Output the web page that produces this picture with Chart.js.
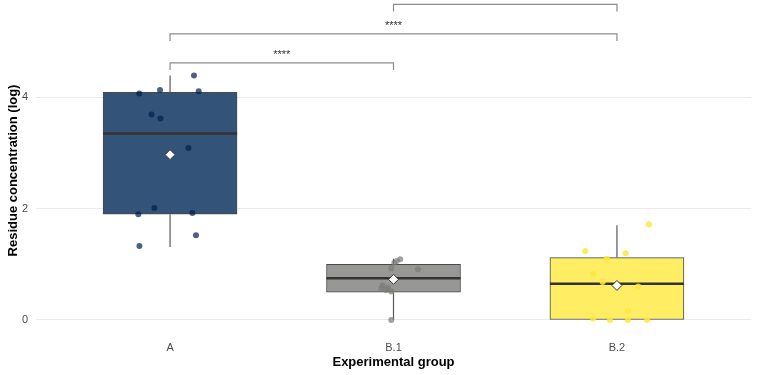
<!DOCTYPE html>
<html>
<head>
<meta charset="utf-8">
<script src="https://cdn.jsdelivr.net/npm/chart.js@4/dist/chart.umd.min.js"></script>
<style>
  html, body { margin: 0; padding: 0; background: #ffffff; }
  canvas { display: block; }
</style>
</head>
<body>
<canvas id="c" width="757" height="375"></canvas>
<script>
// ---- data ----
const categories = ['A', 'B.1', 'B.2'];
const boxQ1      = [1.90, 0.50, 0.00];
const boxMedian  = [3.35, 0.75, 0.65];
const boxQ3      = [4.09, 1.00, 1.12];
const whiskerLow = [1.31, 0.00, 0.00];
const whiskerHigh= [4.39, 1.10, 1.70];
const groupMean  = [2.97, 0.73, 0.62];

// jittered observations: x offset from group centre (category units), value
const jitterA_x  = [0.107, -0.138, -0.045, 0.128, -0.083, -0.043, 0.082, -0.070, -0.142, 0.100, 0.116, -0.137];
const jitterA_y  = [4.39, 4.07, 4.13, 4.11, 3.69, 3.62, 3.09, 2.01, 1.90, 1.92, 1.52, 1.33];
const jitterB1_x = [0.030, 0.015, 0.004, -0.010, 0.110, -0.048, -0.055, -0.033, -0.010, -0.025, -0.010, 0.000];
const jitterB1_y = [1.09, 1.06, 1.03, 0.93, 0.91, 0.62, 0.57, 0.54, 0.51, 0.58, 0.00, 0.74];
const jitterB2_x = [0.143, -0.142, 0.039, -0.046, -0.106, -0.064, 0.095, 0.049, -0.106, -0.031, 0.049, 0.135];
const jitterB2_y = [1.72, 1.24, 1.20, 1.10, 0.83, 0.68, 0.60, 0.16, 0.02, 0.00, 0.00, 0.00];

// significance brackets
const bracketFrom  = [0, 0, 1];
const bracketTo    = [1, 2, 2];
const bracketY     = [4.62, 5.14, 5.67];
const bracketTick  = [0.13, 0.13, 0.13];
const bracketLabel = ['****', '****', '****'];

const yTicks = [0, 2, 4];

// ---- styles ----
const boxFill   = ['rgb(52,83,120)', 'rgb(151,151,149)', 'rgb(255,237,100)'];
const pointCol  = ['rgba(0,32,77,0.7)', 'rgba(124,123,120,0.7)', 'rgba(255,230,60,0.85)'];

const jx = [jitterA_x, jitterB1_x, jitterB2_x];
const jy = [jitterA_y, jitterB1_y, jitterB2_y];

const whiskerData = [];
categories.forEach((c, i) => {
  whiskerData.push({x: i, y: whiskerLow[i]}, {x: i, y: boxQ1[i]}, {x: i, y: null});
  whiskerData.push({x: i, y: boxQ3[i]}, {x: i, y: whiskerHigh[i]}, {x: i, y: null});
});
const medianData = [];
categories.forEach((c, i) => {
  medianData.push({x: i - 0.3, y: boxMedian[i]}, {x: i + 0.3, y: boxMedian[i]}, {x: i + 0.5, y: null});
});
const bracketData = [];
bracketFrom.forEach((f, k) => {
  const t = bracketTo[k], y = bracketY[k], d = bracketTick[k];
  bracketData.push({x: f, y: y - d}, {x: f, y: y}, {x: t, y: y}, {x: t, y: y - d}, {x: t, y: null});
});

const datasets = [];
datasets.push({
  type: 'scatter', order: 0,
  data: categories.map((c, i) => ({x: i, y: groupMean[i]})),
  pointStyle: 'rectRot', pointRadius: 5, pointBackgroundColor: '#ffffff',
  pointBorderColor: '#333333', pointBorderWidth: 1
});
categories.forEach((c, i) => {
  datasets.push({
    type: 'scatter', order: 1,
    data: jx[i].map((dx, k) => ({x: i + dx, y: jy[i][k]})),
    pointRadius: 3, pointBackgroundColor: pointCol[i], pointBorderWidth: 0
  });
});
datasets.push({
  type: 'line', order: 2, data: medianData, borderColor: '#333333', borderWidth: 2.5,
  pointRadius: 0, spanGaps: false, fill: false
});
datasets.push({
  type: 'bar', order: 3,
  data: categories.map((c, i) => ({x: i, y: [boxQ1[i], boxQ3[i]]})),
  backgroundColor: boxFill, borderColor: '#4a4a4a', borderWidth: 1, borderSkipped: false,
  barThickness: 134
});
datasets.push({
  type: 'line', order: 4, data: whiskerData, borderColor: '#5a5a5a', borderWidth: 1.2,
  pointRadius: 0, spanGaps: false, fill: false
});
datasets.push({
  type: 'line', order: 5, data: bracketData, borderColor: '#8c8c8c', borderWidth: 1.2,
  pointRadius: 0, spanGaps: false, fill: false, clip: false
});

const starPlugin = {
  id: 'stars',
  afterDatasetsDraw(chart) {
    const ctx = chart.ctx, xs = chart.scales.x, ys = chart.scales.y;
    ctx.save();
    ctx.fillStyle = '#333333';
    ctx.font = '11px "Liberation Sans", Arial, sans-serif';
    ctx.textAlign = 'center';
    ctx.textBaseline = 'alphabetic';
    bracketLabel.forEach((lab, k) => {
      const px = xs.getPixelForValue((bracketFrom[k] + bracketTo[k]) / 2);
      const py = ys.getPixelForValue(bracketY[k]) - 5;
      ctx.fillText(lab, px, py);
    });
    ctx.restore();
  }
};

new Chart(document.getElementById('c'), {
  data: { datasets },
  plugins: [starPlugin],
  options: {
    responsive: false,
    animation: false,
    layout: { padding: { left: 0, right: 5, top: 0, bottom: 0 } },
    plugins: { legend: { display: false }, tooltip: { enabled: false } },
    scales: {
      x: {
        type: 'linear', min: -0.6, max: 2.6, offset: false,
        afterBuildTicks: s => { s.ticks = categories.map((c, i) => ({value: i})); },
        afterFit: s => { s.height = 40; s.paddingLeft = 0; s.paddingRight = 0; s.paddingTop = 0; s.paddingBottom = 0; },
        grid: { display: false, drawTicks: false, offset: false },
        border: { display: false },
        ticks: {
          callback: v => categories[v] ?? '',
          color: '#4d4d4d', padding: 6,
          font: { family: '"Liberation Sans", Arial, sans-serif', size: 11 },
          autoSkip: false, maxRotation: 0
        },
        title: {
          display: true, text: 'Experimental group', color: '#000000',
          font: { family: '"Liberation Sans", Arial, sans-serif', size: 13, weight: 'bold' },
          padding: { top: 0, bottom: 5 }
        }
      },
      y: {
        type: 'linear', min: -0.27, max: 5.64,
        afterBuildTicks: s => { s.ticks = yTicks.map(v => ({value: v})); },
        afterFit: s => { s.width = 36; s.paddingTop = 0; s.paddingBottom = 0; s.paddingLeft = 0; s.paddingRight = 0; },
        grid: { color: '#ebebeb', drawTicks: false, lineWidth: 1 },
        border: { display: false },
        ticks: {
          color: '#4d4d4d', padding: 8,
          font: { family: '"Liberation Sans", Arial, sans-serif', size: 11 }
        },
        title: {
          display: true, text: 'Residue concentration (log)', color: '#000000',
          font: { family: '"Liberation Sans", Arial, sans-serif', size: 13, weight: 'bold' },
          padding: { top: 6, bottom: 0 }
        }
      }
    }
  }
});
</script>
</body>
</html>
